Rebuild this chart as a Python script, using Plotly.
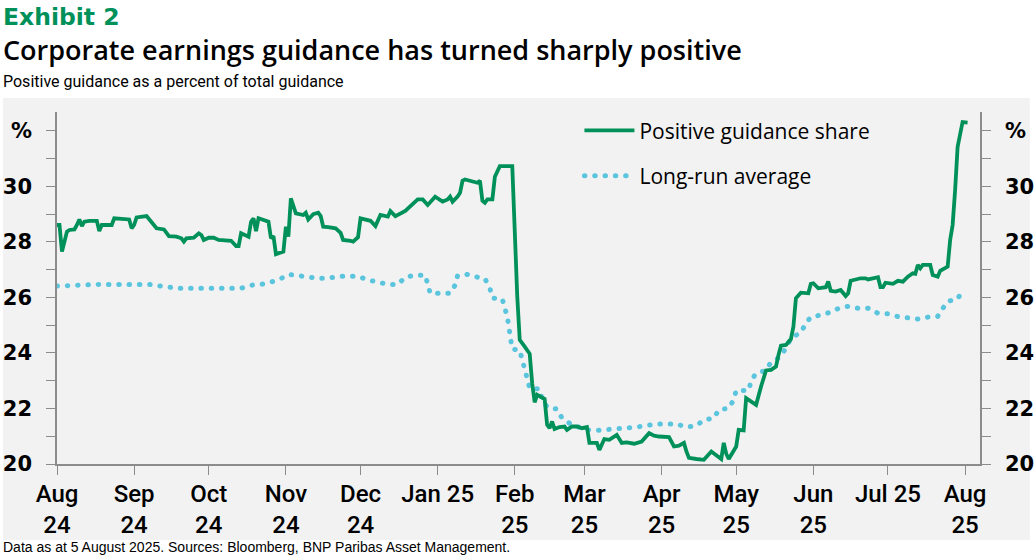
import plotly.graph_objects as go

# ---------------- data ----------------
pg_dates = [
    "2024-08-01", "2024-08-02", "2024-08-03", "2024-08-05", "2024-08-06", "2024-08-08", "2024-08-09", "2024-08-10",
    "2024-08-11", "2024-08-12", "2024-08-14", "2024-08-17", "2024-08-18", "2024-08-19", "2024-08-23", "2024-08-24",
    "2024-08-30", "2024-08-31",
    "2024-09-01", "2024-09-02", "2024-09-06", "2024-09-08", "2024-09-10", "2024-09-13", "2024-09-15", "2024-09-18",
    "2024-09-20", "2024-09-21", "2024-09-22", "2024-09-25", "2024-09-27", "2024-09-28", "2024-09-29",
    "2024-10-01", "2024-10-03", "2024-10-05", "2024-10-10", "2024-10-12", "2024-10-13", "2024-10-14", "2024-10-17",
    "2024-10-18", "2024-10-19", "2024-10-20", "2024-10-21", "2024-10-25", "2024-10-26", "2024-10-27", "2024-10-28",
    "2024-10-31",
    "2024-11-01", "2024-11-02", "2024-11-03", "2024-11-05", "2024-11-08", "2024-11-09", "2024-11-10", "2024-11-12",
    "2024-11-14", "2024-11-15", "2024-11-16", "2024-11-18", "2024-11-21", "2024-11-23", "2024-11-24", "2024-11-27",
    "2024-11-28", "2024-11-30",
    "2024-12-01", "2024-12-05", "2024-12-07", "2024-12-09", "2024-12-12", "2024-12-13", "2024-12-15", "2024-12-19",
    "2024-12-21", "2024-12-24", "2024-12-26", "2024-12-28", "2024-12-31",
    "2025-01-03", "2025-01-05", "2025-01-06", "2025-01-07", "2025-01-09", "2025-01-10", "2025-01-11", "2025-01-12",
    "2025-01-15", "2025-01-17", "2025-01-18", "2025-01-19", "2025-01-20", "2025-01-21", "2025-01-23", "2025-01-24",
    "2025-01-26", "2025-01-31",
    "2025-02-02", "2025-02-03", "2025-02-05", "2025-02-07", "2025-02-08", "2025-02-09", "2025-02-10", "2025-02-13",
    "2025-02-14", "2025-02-15", "2025-02-16", "2025-02-17", "2025-02-19", "2025-02-21", "2025-02-22", "2025-02-24",
    "2025-02-26", "2025-02-28",
    "2025-03-02", "2025-03-03", "2025-03-06", "2025-03-07", "2025-03-09", "2025-03-11", "2025-03-14", "2025-03-16",
    "2025-03-18", "2025-03-21", "2025-03-24", "2025-03-27", "2025-03-29", "2025-03-31",
    "2025-04-04", "2025-04-06", "2025-04-08", "2025-04-10", "2025-04-11", "2025-04-12", "2025-04-15", "2025-04-18",
    "2025-04-21", "2025-04-23", "2025-04-25", "2025-04-26", "2025-04-27", "2025-04-28",
    "2025-05-01", "2025-05-02", "2025-05-04", "2025-05-05", "2025-05-09", "2025-05-11", "2025-05-13", "2025-05-15",
    "2025-05-17", "2025-05-18", "2025-05-19", "2025-05-21", "2025-05-23", "2025-05-24", "2025-05-25", "2025-05-27",
    "2025-05-30", "2025-05-31",
    "2025-06-01", "2025-06-03", "2025-06-06", "2025-06-07", "2025-06-08", "2025-06-10", "2025-06-12", "2025-06-14",
    "2025-06-15", "2025-06-16", "2025-06-20", "2025-06-22", "2025-06-23", "2025-06-27", "2025-06-28", "2025-06-29",
    "2025-06-30",
    "2025-07-03", "2025-07-05", "2025-07-07", "2025-07-09", "2025-07-11", "2025-07-12", "2025-07-13", "2025-07-14",
    "2025-07-15", "2025-07-18", "2025-07-19", "2025-07-21", "2025-07-22", "2025-07-25", "2025-07-26", "2025-07-27",
    "2025-07-28", "2025-07-29", "2025-07-31", "2025-08-02",
]
pg_share = [
    28.61, 28.61, 27.65, 28.37, 28.43, 28.45, 28.61, 28.81, 28.57, 28.73, 28.76, 28.76, 28.39, 28.61, 28.61, 28.85,
    28.81, 28.49,
    28.61, 28.88, 28.93, 28.69, 28.49, 28.45, 28.21, 28.19, 28.13, 28.01, 28.13, 28.15, 28.31, 28.25, 28.07,
    28.15, 28.15, 28.07, 28.04, 27.85, 27.85, 28.31, 28.19, 28.73, 28.85, 28.39, 28.85, 28.73, 28.13, 28.21, 27.56,
    27.65,
    28.55, 28.19, 29.57, 29.03, 28.97, 29.05, 28.81, 29.00, 29.05, 28.93, 28.55, 28.53, 28.49, 28.33, 28.07, 28.04,
    28.01, 28.17,
    28.85, 28.76, 28.57, 28.97, 28.91, 29.11, 28.93, 29.12, 29.27, 29.53, 29.53, 29.33, 29.63,
    29.45, 29.53, 29.63, 29.45, 29.63, 29.77, 30.20, 30.25, 30.17, 30.13, 30.20, 29.48, 29.41, 29.53, 29.53, 30.35,
    30.73, 30.73,
    26.03, 24.47, 24.23, 23.97, 22.91, 22.22, 22.49, 22.34, 21.41, 21.29, 21.53, 21.26, 21.33, 21.35, 21.23, 21.35,
    21.35, 21.29,
    21.33, 20.76, 20.76, 20.51, 20.90, 20.87, 21.05, 20.76, 20.78, 20.73, 20.81, 21.11, 21.02, 20.99,
    20.97, 20.63, 20.66, 20.76, 20.45, 20.22, 20.18, 20.15, 20.45, 20.33, 20.18, 20.76, 20.37, 20.18,
    20.63, 21.23, 21.21, 22.37, 22.13, 22.79, 23.37, 23.39, 23.51, 23.93, 24.26, 24.29, 24.50, 24.95, 25.97, 26.17,
    26.15, 26.49,
    26.51, 26.33, 26.37, 26.57, 26.24, 26.21, 26.27, 26.05, 26.15, 26.60, 26.69, 26.69, 26.65, 26.73, 26.37, 26.37,
    26.53,
    26.49, 26.60, 26.57, 26.75, 26.87, 26.85, 27.17, 27.05, 27.17, 27.17, 26.81, 26.75, 26.96, 27.11, 28.07, 28.61,
    29.87, 31.42, 32.32, 32.30,
]

avg_dates = [
    "2024-08-01", "2024-08-09", "2024-08-18", "2024-09-07", "2024-09-11", "2024-09-15", "2024-09-19", "2024-09-28",
    "2024-10-02", "2024-10-06", "2024-10-10", "2024-10-14", "2024-10-18", "2024-10-22", "2024-10-26", "2024-10-30",
    "2024-11-02", "2024-11-06", "2024-11-14", "2024-11-18", "2024-11-22", "2024-11-30", "2024-12-04", "2024-12-08",
    "2024-12-12", "2024-12-16", "2024-12-19", "2024-12-23", "2024-12-27", "2024-12-28", "2024-12-29", "2025-01-06",
    "2025-01-08", "2025-01-09", "2025-01-13", "2025-01-17", "2025-01-20", "2025-01-22", "2025-01-23", "2025-01-27",
    "2025-01-28", "2025-01-29", "2025-01-30", "2025-01-31", "2025-02-03", "2025-02-04", "2025-02-05", "2025-02-06",
    "2025-02-07", "2025-02-11", "2025-02-12", "2025-02-14", "2025-02-18", "2025-02-20", "2025-02-23", "2025-02-26",
    "2025-03-02", "2025-03-06", "2025-03-14", "2025-03-22", "2025-03-30", "2025-04-07", "2025-04-11", "2025-04-15",
    "2025-04-18", "2025-04-22", "2025-04-24", "2025-04-28", "2025-04-30", "2025-05-01", "2025-05-06", "2025-05-07",
    "2025-05-09", "2025-05-13", "2025-05-15", "2025-05-18", "2025-05-20", "2025-05-22", "2025-05-24", "2025-05-27",
    "2025-05-29", "2025-05-31", "2025-06-04", "2025-06-08", "2025-06-11", "2025-06-15", "2025-06-19", "2025-06-23",
    "2025-06-27", "2025-07-01", "2025-07-05", "2025-07-09", "2025-07-13", "2025-07-17", "2025-07-21", "2025-07-23",
    "2025-07-25", "2025-07-29", "2025-07-31",
]
avg_share = [
    26.41, 26.44, 26.47, 26.47, 26.40, 26.37, 26.33, 26.33, 26.31, 26.29, 26.33, 26.33, 26.44, 26.47, 26.55, 26.68,
    26.83, 26.77, 26.69, 26.69, 26.76, 26.76, 26.63, 26.55, 26.47, 26.47, 26.73, 26.80, 26.80, 26.49, 26.15, 26.15,
    26.44, 26.78, 26.83, 26.73, 26.68, 26.33, 25.98, 25.94, 25.61, 25.30, 24.70, 24.14, 24.10, 23.78, 23.40, 23.06,
    22.73, 22.70, 22.34, 22.05, 21.98, 21.65, 21.47, 21.35, 21.23, 21.21, 21.27, 21.33, 21.44, 21.44, 21.33, 21.38,
    21.59, 21.65, 21.95, 22.01, 22.31, 22.65, 22.65, 23.00, 23.27, 23.37, 23.67, 23.81, 24.03, 24.37, 24.59, 24.73,
    25.07, 25.29, 25.37, 25.47, 25.60, 25.68, 25.61, 25.61, 25.43, 25.41, 25.31, 25.26, 25.22, 25.29, 25.32, 25.60,
    25.86, 25.94, 26.27,
]

month_ticks = [
    "2024-08-01", "2024-09-01", "2024-10-01", "2024-11-01", "2024-12-01", "2025-01-01", "2025-02-01",
    "2025-03-01", "2025-04-01", "2025-05-01", "2025-06-01", "2025-07-01", "2025-08-01",
]
month_labels = [
    "Aug<br>24", "Sep<br>24", "Oct<br>24", "Nov<br>24", "Dec<br>24", "Jan 25", "Feb<br>25",
    "Mar<br>25", "Apr<br>25", "May<br>25", "Jun<br>25", "Jul 25", "Aug<br>25",
]
y_ticks = list(range(20, 33))
y_labels = ["20", "", "22", "", "24", "", "26", "", "28", "", "30", "", "%"]

title_tag = "Exhibit 2"
title_text = "Corporate earnings guidance has turned sharply positive"
subtitle_text = "Positive guidance as a percent of total guidance"
source_text = "Data as at 5 August 2025. Sources: Bloomberg, BNP Paribas Asset Management."

# ---------------- style ----------------
GREEN = "#00915a"
BLUE = "#5bc5de"
AXIS = "#8c8c8c"
BG = "#f2f2f2"

fig = go.Figure()
fig.add_trace(go.Scatter(
    x=avg_dates, y=avg_share, name="Long-run average", mode="lines",
    line=dict(color=BLUE, width=5, dash="0.5px,9.8px"),
    yaxis="y", legendgroup="b", legendrank=2, hoverinfo="skip",
))
fig.add_trace(go.Scatter(
    x=pg_dates, y=pg_share, name="Positive guidance share", mode="lines",
    line=dict(color=GREEN, width=3.8),
    yaxis="y2", legendgroup="a", legendrank=1, hoverinfo="skip",
))

yaxis_common = dict(
    range=[20, 32.68], tickmode="array", tickvals=y_ticks, ticktext=y_labels,
    ticks="outside", ticklen=9, tickwidth=1.2, tickcolor=AXIS,
    showline=True, linecolor=AXIS, linewidth=1.5, showgrid=False, zeroline=False,
    tickfont=dict(family="DejaVu Sans", size=21, color="#000000", weight="bold"),
    ticklabelstandoff=10, fixedrange=True, automargin=False,
)

fig.update_layout(
    width=1035, height=557,
    margin=dict(l=57, r=55, t=112, b=93, autoexpand=False),
    paper_bgcolor="#ffffff", plot_bgcolor=BG,
    showlegend=True,
    legend=dict(
        x=0.566, y=1.005, xanchor="left", yanchor="top",
        bgcolor="rgba(0,0,0,0)", borderwidth=0,
        font=dict(family="Open Sans", size=21, color="#000000", weight=500),
        tracegroupgap=15, traceorder="grouped", itemwidth=50,
    ),
    xaxis=dict(
        type="date", range=["2024-08-01", "2025-08-07"],
        tickmode="array", tickvals=month_ticks, ticktext=month_labels,
        ticks="outside", ticklen=9, tickwidth=1.2, tickcolor=AXIS,
        showline=True, linecolor=AXIS, linewidth=1.5, showgrid=False, zeroline=False,
        tickfont=dict(family="Roboto", size=24, color="#000000", weight=500),
        ticklabelstandoff=-2, fixedrange=True, automargin=False,
    ),
    yaxis=dict(side="left", **yaxis_common),
    yaxis2=dict(side="right", overlaying="y", **yaxis_common),
    shapes=[dict(
        type="rect", xref="paper", yref="paper",
        x0=-0.0585, x1=1.054, y0=-0.216, y1=1.04,
        fillcolor=BG, line=dict(width=0), layer="below",
    )],
    annotations=[
        dict(text=title_tag, xref="paper", yref="paper", x=-0.0605, y=1.271,
             xanchor="left", yanchor="middle", showarrow=False,
             font=dict(family="DejaVu Sans", size=23.5, color=GREEN, weight="bold")),
        dict(text=title_text, xref="paper", yref="paper", x=-0.0605, y=1.177,
             xanchor="left", yanchor="middle", showarrow=False,
             font=dict(family="Open Sans", size=27, color="#000000", weight=600)),
        dict(text=subtitle_text, xref="paper", yref="paper", x=-0.0605, y=1.088,
             xanchor="left", yanchor="middle", showarrow=False,
             font=dict(family="Roboto", size=16, color="#000000")),
        dict(text=source_text, xref="paper", yref="paper", x=-0.0605, y=-0.237,
             xanchor="left", yanchor="middle", showarrow=False,
             font=dict(family="Liberation Sans", size=14, color="#000000")),
    ],
)

post_js = """
document.documentElement.style.margin = '0';
document.body.style.margin = '0';
document.body.style.padding = '0';
var gd = document.getElementById('{plot_id}');
function roundDots() {
  gd.querySelectorAll('path').forEach(function (p) {
    var d = p.style.strokeDasharray;
    if (d && d !== 'none' && d !== '') { p.style.strokeLinecap = 'round'; }
  });
}
roundDots();
gd.on('plotly_afterplot', roundDots);
"""

fig.write_html("out.html", post_script=post_js, config={"displayModeBar": False})
